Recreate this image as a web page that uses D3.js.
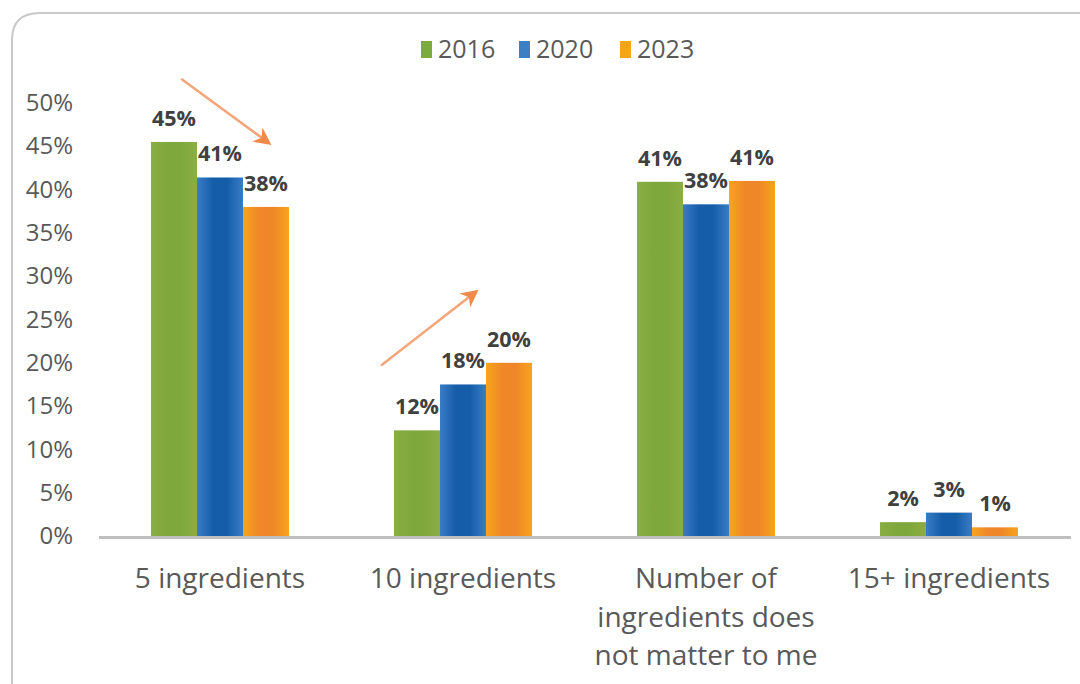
<!DOCTYPE html>
<html><head><meta charset="utf-8">
<script src="https://cdn.jsdelivr.net/npm/d3@7"></script>
<style>
html,body{margin:0;padding:0;background:#fff;}
svg{display:block;font-family:"Open Sans","Noto Sans",sans-serif;}
</style></head>
<body>
<svg id="chart" width="1080" height="684"></svg>
<script>
const categories = [["5 ingredients"],["10 ingredients"],["Number of","ingredients does","not matter to me"],["15+ ingredients"]];
const seriesNames = ["2016","2020","2023"];
const values2016 = [45.5, 12.2, 40.9, 1.6];
const values2020 = [41.4, 17.5, 38.3, 2.7];
const values2023 = [38.0, 20.0, 41.0, 1.0];
const labels2016 = ["45%","12%","41%","2%"];
const labels2020 = ["41%","18%","38%","3%"];
const labels2023 = ["38%","20%","41%","1%"];
const yTicks = [0,5,10,15,20,25,30,35,40,45,50];
// trend arrows: [category index, band fraction, value%]
const arrows = [
  {from:[0,0.34,52.8], to:[0,0.70,45.4]},
  {from:[1,0.163,19.7], to:[1,0.553,28.2]}
];

const svg = d3.select("#chart");
const W=1080,H=684;
const m={left:98.5,right:1070.5,top:103,bottom:536};

const defs = svg.append("defs");
const grad = (id, edge, mid) => {
  const g = defs.append("linearGradient").attr("id",id).attr("x1","0%").attr("x2","100%").attr("y1","0%").attr("y2","0%");
  g.append("stop").attr("offset","0%").attr("stop-color",edge);
  g.append("stop").attr("offset","35%").attr("stop-color",mid);
  g.append("stop").attr("offset","65%").attr("stop-color",mid);
  g.append("stop").attr("offset","100%").attr("stop-color",edge);
};
grad("gGreen","#8aae44","#7fa83c");
grad("gBlue","#3a7cc6","#155da9");
grad("gOrange","#f8a41c","#ef8728");
const fills=["url(#gGreen)","url(#gBlue)","url(#gOrange)"];
const legendColors=["#7bab3d","#3b7fc4","#f7a21b"];

// frame
svg.append("path")
  .attr("d",`M12,${H+20} L12,40 Q12,13 40,13 L${W+20},13`)
  .attr("fill","none").attr("stroke","#c8c8c8").attr("stroke-width",2);

const x0 = d3.scaleBand().domain(d3.range(categories.length)).range([m.left,m.right]).paddingInner(0).paddingOuter(0);
const x1 = d3.scaleBand().domain(d3.range(seriesNames.length)).range([0,x0.bandwidth()]).paddingInner(0).paddingOuter(1.14);
const y = d3.scaleLinear().domain([0,50]).range([m.bottom,m.top]);

// y axis labels
const yAxis = d3.axisLeft(y).tickValues(yTicks).tickFormat(d=>d+"%").tickSize(0).tickPadding(0);
const ya = svg.append("g").attr("transform","translate(73,0)").call(yAxis);
ya.select(".domain").remove();
ya.selectAll("text").attr("font-size",24).attr("fill","#595959").attr("font-family","'Open Sans',sans-serif");

const allVals=[values2016,values2020,values2023];
const allLabels=[labels2016,labels2020,labels2023];

seriesNames.forEach((s,si)=>{
  const g=svg.append("g");
  g.selectAll("rect").data(allVals[si]).join("rect")
    .attr("x",(d,i)=>x0(i)+x1(si))
    .attr("width",x1.bandwidth())
    .attr("y",d=>y(d))
    .attr("height",d=>y(0)-y(d))
    .attr("fill",fills[si]);
  g.selectAll("text").data(allVals[si]).join("text")
    .attr("x",(d,i)=>x0(i)+x1(si)+x1.bandwidth()/2)
    .attr("y",d=>y(d)-16)
    .attr("text-anchor","middle")
    .attr("font-size",21.5).attr("font-weight","bold").attr("fill","#404040")
    .text((d,i)=>allLabels[si][i]);
});

// x axis line
const xa = d3.axisBottom(x0).tickSize(0).tickFormat("");
const xg = svg.append("g").attr("transform",`translate(0,${m.bottom+1})`).call(xa);
xg.select(".domain").attr("stroke","#bfbfbf").attr("stroke-width",3);

// category labels
categories.forEach((lines,i)=>{
  const t=svg.append("text").attr("text-anchor","middle").attr("font-size",28).attr("fill","#595959");
  lines.forEach((ln,j)=>{
    t.append("tspan").attr("x",x0(i)+x0.bandwidth()/2).attr("y",588+j*38.5).text(ln);
  });
});

// arrows
defs.append("marker").attr("id","arrowHead").attr("viewBox","0 0 10 10").attr("refX",8).attr("refY",5)
  .attr("markerWidth",7).attr("markerHeight",7).attr("orient","auto")
  .append("path").attr("d","M0,0 L10,5 L0,10 L3,5 Z").attr("fill","#f08a4b");
const ax = p => x0(p[0]) + p[1]*x0.bandwidth();
arrows.forEach(a=>{
  svg.append("line")
    .attr("x1",ax(a.from)).attr("y1",y(a.from[2]))
    .attr("x2",ax(a.to)).attr("y2",y(a.to[2]))
    .attr("stroke","#f4a67a").attr("stroke-width",2.5)
    .attr("marker-end","url(#arrowHead)");
});

// legend
const legendX=[421,519,620];
seriesNames.forEach((s,i)=>{
  svg.append("rect").attr("x",legendX[i]).attr("y",41).attr("width",11).attr("height",17).attr("fill",legendColors[i]);
  svg.append("text").attr("x",legendX[i]+17).attr("y",58).attr("font-size",25).attr("fill","#595959").text(s);
});
</script>
</body></html>
